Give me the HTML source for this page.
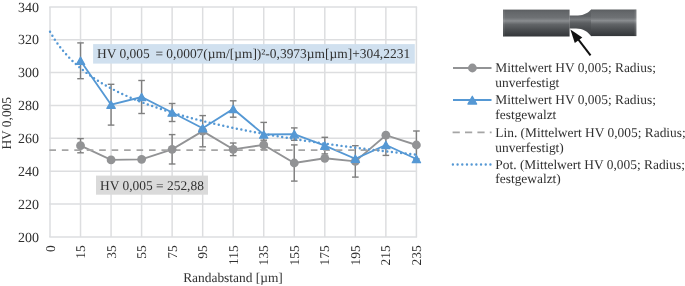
<!DOCTYPE html><html><head><meta charset="utf-8"><style>html,body{margin:0;padding:0;background:#fff;width:685px;height:286px;overflow:hidden}svg{display:block;will-change:transform}text{font-family:"Liberation Serif",serif;white-space:pre;text-rendering:geometricPrecision}</style></head><body><svg width="685" height="286" viewBox="0 0 685 286">
<defs><linearGradient id="cyl" x1="0" y1="0" x2="0" y2="1">
<stop offset="0" stop-color="#5a5d60"/><stop offset="0.1" stop-color="#64676a"/><stop offset="0.3" stop-color="#6e7174"/><stop offset="0.38" stop-color="#808386"/><stop offset="0.42" stop-color="#8b8e91"/><stop offset="0.47" stop-color="#7a7d80"/><stop offset="0.55" stop-color="#626568"/><stop offset="0.75" stop-color="#4b4e51"/><stop offset="1" stop-color="#333639"/></linearGradient>
<linearGradient id="neck" gradientUnits="userSpaceOnUse" x1="0" y1="9.5" x2="0" y2="36.4"><stop offset="0" stop-color="#5d6063"/><stop offset="0.25" stop-color="#5f6265"/><stop offset="0.38" stop-color="#7a7d80"/><stop offset="0.5" stop-color="#5c5f62"/><stop offset="0.7" stop-color="#4a4d50"/><stop offset="1" stop-color="#3d4043"/></linearGradient></defs>
<rect x="503" y="9.6" width="66.6" height="26.9" fill="url(#cyl)"/>
<path d="M569.4,15.5 L578,15.5 C584,15.5 588.5,12.5 591.2,9.6 L591.2,36.3 C588,32 583,28.6 576,28.6 L569.4,28.6 Z" fill="url(#neck)"/>
<rect x="591" y="9.5" width="45.4" height="26.6" fill="url(#cyl)"/><rect x="634.6" y="9.8" width="1.6" height="26" fill="#fff" opacity="0.12"/><rect x="503.2" y="9.8" width="1.4" height="26.4" fill="#fff" opacity="0.1"/>
<line x1="590.5" y1="55.4" x2="577.5" y2="38.4" stroke="#111" stroke-width="2"/>
<path d="M570.4,29.4 L582.3,37.6 L574.8,43.1 Z" fill="#111"/>
<line x1="49.30" y1="236.90" x2="417.10" y2="236.90" stroke="#dddee0" stroke-width="1.5"/><line x1="49.30" y1="204.04" x2="417.10" y2="204.04" stroke="#dddee0" stroke-width="1.5"/><line x1="49.30" y1="171.19" x2="417.10" y2="171.19" stroke="#dddee0" stroke-width="1.5"/><line x1="49.30" y1="138.33" x2="417.10" y2="138.33" stroke="#dddee0" stroke-width="1.5"/><line x1="49.30" y1="105.47" x2="417.10" y2="105.47" stroke="#dddee0" stroke-width="1.5"/><line x1="49.30" y1="72.61" x2="417.10" y2="72.61" stroke="#dddee0" stroke-width="1.5"/><line x1="49.30" y1="39.76" x2="417.10" y2="39.76" stroke="#dddee0" stroke-width="1.5"/><line x1="49.30" y1="6.90" x2="417.10" y2="6.90" stroke="#dddee0" stroke-width="1.5"/><line x1="50.00" y1="6.90" x2="50.00" y2="236.90" stroke="#dddee0" stroke-width="1.5"/><line x1="80.53" y1="6.90" x2="80.53" y2="236.90" stroke="#dddee0" stroke-width="1.5"/><line x1="111.07" y1="6.90" x2="111.07" y2="236.90" stroke="#dddee0" stroke-width="1.5"/><line x1="141.60" y1="6.90" x2="141.60" y2="236.90" stroke="#dddee0" stroke-width="1.5"/><line x1="172.13" y1="6.90" x2="172.13" y2="236.90" stroke="#dddee0" stroke-width="1.5"/><line x1="202.67" y1="6.90" x2="202.67" y2="236.90" stroke="#dddee0" stroke-width="1.5"/><line x1="233.20" y1="6.90" x2="233.20" y2="236.90" stroke="#dddee0" stroke-width="1.5"/><line x1="263.73" y1="6.90" x2="263.73" y2="236.90" stroke="#dddee0" stroke-width="1.5"/><line x1="294.27" y1="6.90" x2="294.27" y2="236.90" stroke="#dddee0" stroke-width="1.5"/><line x1="324.80" y1="6.90" x2="324.80" y2="236.90" stroke="#dddee0" stroke-width="1.5"/><line x1="355.33" y1="6.90" x2="355.33" y2="236.90" stroke="#dddee0" stroke-width="1.5"/><line x1="385.87" y1="6.90" x2="385.87" y2="236.90" stroke="#dddee0" stroke-width="1.5"/><line x1="416.40" y1="6.90" x2="416.40" y2="236.90" stroke="#dddee0" stroke-width="1.5"/><rect x="93.1" y="44.1" width="321.7" height="19.5" fill="#d0e0ef"/><rect x="96" y="175.6" width="112" height="19.1" fill="#dadada"/><line x1="80.53" y1="138.60" x2="80.53" y2="152.80" stroke="#7f7f7f" stroke-width="1.4"/><line x1="77.23" y1="138.60" x2="83.83" y2="138.60" stroke="#7f7f7f" stroke-width="1.4"/><line x1="77.23" y1="152.80" x2="83.83" y2="152.80" stroke="#7f7f7f" stroke-width="1.4"/><line x1="172.13" y1="134.60" x2="172.13" y2="164.00" stroke="#7f7f7f" stroke-width="1.4"/><line x1="168.83" y1="134.60" x2="175.43" y2="134.60" stroke="#7f7f7f" stroke-width="1.4"/><line x1="168.83" y1="164.00" x2="175.43" y2="164.00" stroke="#7f7f7f" stroke-width="1.4"/><line x1="202.67" y1="115.60" x2="202.67" y2="146.80" stroke="#7f7f7f" stroke-width="1.4"/><line x1="199.37" y1="115.60" x2="205.97" y2="115.60" stroke="#7f7f7f" stroke-width="1.4"/><line x1="199.37" y1="146.80" x2="205.97" y2="146.80" stroke="#7f7f7f" stroke-width="1.4"/><line x1="233.20" y1="143.00" x2="233.20" y2="155.60" stroke="#7f7f7f" stroke-width="1.4"/><line x1="229.90" y1="143.00" x2="236.50" y2="143.00" stroke="#7f7f7f" stroke-width="1.4"/><line x1="229.90" y1="155.60" x2="236.50" y2="155.60" stroke="#7f7f7f" stroke-width="1.4"/><line x1="263.73" y1="140.20" x2="263.73" y2="149.60" stroke="#7f7f7f" stroke-width="1.4"/><line x1="260.43" y1="140.20" x2="267.03" y2="140.20" stroke="#7f7f7f" stroke-width="1.4"/><line x1="260.43" y1="149.60" x2="267.03" y2="149.60" stroke="#7f7f7f" stroke-width="1.4"/><line x1="294.27" y1="144.90" x2="294.27" y2="181.10" stroke="#7f7f7f" stroke-width="1.4"/><line x1="290.97" y1="144.90" x2="297.57" y2="144.90" stroke="#7f7f7f" stroke-width="1.4"/><line x1="290.97" y1="181.10" x2="297.57" y2="181.10" stroke="#7f7f7f" stroke-width="1.4"/><line x1="355.33" y1="145.70" x2="355.33" y2="177.10" stroke="#7f7f7f" stroke-width="1.4"/><line x1="352.03" y1="145.70" x2="358.63" y2="145.70" stroke="#7f7f7f" stroke-width="1.4"/><line x1="352.03" y1="177.10" x2="358.63" y2="177.10" stroke="#7f7f7f" stroke-width="1.4"/><line x1="416.40" y1="131.00" x2="416.40" y2="159.00" stroke="#7f7f7f" stroke-width="1.4"/><line x1="413.10" y1="131.00" x2="419.70" y2="131.00" stroke="#7f7f7f" stroke-width="1.4"/><line x1="413.10" y1="159.00" x2="419.70" y2="159.00" stroke="#7f7f7f" stroke-width="1.4"/><line x1="80.53" y1="42.90" x2="80.53" y2="78.70" stroke="#7f7f7f" stroke-width="1.4"/><line x1="77.23" y1="42.90" x2="83.83" y2="42.90" stroke="#7f7f7f" stroke-width="1.4"/><line x1="77.23" y1="78.70" x2="83.83" y2="78.70" stroke="#7f7f7f" stroke-width="1.4"/><line x1="111.07" y1="84.30" x2="111.07" y2="125.10" stroke="#7f7f7f" stroke-width="1.4"/><line x1="107.77" y1="84.30" x2="114.37" y2="84.30" stroke="#7f7f7f" stroke-width="1.4"/><line x1="107.77" y1="125.10" x2="114.37" y2="125.10" stroke="#7f7f7f" stroke-width="1.4"/><line x1="141.60" y1="80.50" x2="141.60" y2="113.50" stroke="#7f7f7f" stroke-width="1.4"/><line x1="138.30" y1="80.50" x2="144.90" y2="80.50" stroke="#7f7f7f" stroke-width="1.4"/><line x1="138.30" y1="113.50" x2="144.90" y2="113.50" stroke="#7f7f7f" stroke-width="1.4"/><line x1="172.13" y1="103.50" x2="172.13" y2="121.50" stroke="#7f7f7f" stroke-width="1.4"/><line x1="168.83" y1="103.50" x2="175.43" y2="103.50" stroke="#7f7f7f" stroke-width="1.4"/><line x1="168.83" y1="121.50" x2="175.43" y2="121.50" stroke="#7f7f7f" stroke-width="1.4"/><line x1="233.20" y1="100.80" x2="233.20" y2="117.20" stroke="#7f7f7f" stroke-width="1.4"/><line x1="229.90" y1="100.80" x2="236.50" y2="100.80" stroke="#7f7f7f" stroke-width="1.4"/><line x1="229.90" y1="117.20" x2="236.50" y2="117.20" stroke="#7f7f7f" stroke-width="1.4"/><line x1="263.73" y1="122.40" x2="263.73" y2="146.60" stroke="#7f7f7f" stroke-width="1.4"/><line x1="260.43" y1="122.40" x2="267.03" y2="122.40" stroke="#7f7f7f" stroke-width="1.4"/><line x1="260.43" y1="146.60" x2="267.03" y2="146.60" stroke="#7f7f7f" stroke-width="1.4"/><line x1="294.27" y1="127.90" x2="294.27" y2="140.30" stroke="#7f7f7f" stroke-width="1.4"/><line x1="290.97" y1="127.90" x2="297.57" y2="127.90" stroke="#7f7f7f" stroke-width="1.4"/><line x1="290.97" y1="140.30" x2="297.57" y2="140.30" stroke="#7f7f7f" stroke-width="1.4"/><line x1="324.80" y1="137.30" x2="324.80" y2="153.90" stroke="#7f7f7f" stroke-width="1.4"/><line x1="321.50" y1="137.30" x2="328.10" y2="137.30" stroke="#7f7f7f" stroke-width="1.4"/><line x1="321.50" y1="153.90" x2="328.10" y2="153.90" stroke="#7f7f7f" stroke-width="1.4"/><line x1="385.87" y1="134.60" x2="385.87" y2="155.40" stroke="#7f7f7f" stroke-width="1.4"/><line x1="382.57" y1="134.60" x2="389.17" y2="134.60" stroke="#7f7f7f" stroke-width="1.4"/><line x1="382.57" y1="155.40" x2="389.17" y2="155.40" stroke="#7f7f7f" stroke-width="1.4"/><polyline points="80.53,145.70 111.07,159.90 141.60,159.30 172.13,149.30 202.67,131.20 233.20,149.30 263.73,144.90 294.27,163.00 324.80,158.30 355.33,161.40 385.87,135.20 416.40,145.00" fill="none" stroke="#929395" stroke-width="1.85"/><polyline points="80.53,60.80 111.07,104.70 141.60,97.00 172.13,112.50 202.67,128.30 233.20,109.00 263.73,134.50 294.27,134.10 324.80,145.60 355.33,158.80 385.87,145.00 416.40,159.00" fill="none" stroke="#5598d4" stroke-width="1.85"/><line x1="49.40" y1="150.03" x2="385.87" y2="150.03" stroke="#a5a5a5" stroke-width="1.8" stroke-dasharray="6.6 5.85"/><polyline points="50.00,31.67 51.53,34.33 53.05,36.85 54.58,39.24 56.11,41.53 57.63,43.71 59.16,45.79 60.69,47.79 62.21,49.71 63.74,51.56 65.27,53.34 66.79,55.05 68.32,56.70 69.85,58.30 71.37,59.85 72.90,61.34 74.43,62.79 75.95,64.20 77.48,65.56 79.01,66.88 80.53,68.17 82.06,69.43 83.59,70.65 85.11,71.83 86.64,72.99 88.17,74.12 89.69,75.22 91.22,76.30 92.75,77.35 94.27,78.38 95.80,79.38 97.33,80.37 98.85,81.33 100.38,82.27 101.91,83.19 103.43,84.09 104.96,84.98 106.49,85.85 108.01,86.70 109.54,87.54 111.07,88.36 112.59,89.16 114.12,89.95 115.65,90.73 117.17,91.49 118.70,92.24 120.23,92.98 121.75,93.70 123.28,94.42 124.81,95.12 126.33,95.81 127.86,96.49 129.39,97.16 130.91,97.82 132.44,98.47 133.97,99.11 135.49,99.74 137.02,100.36 138.55,100.98 140.07,101.58 141.60,102.18 143.13,102.76 144.65,103.34 146.18,103.92 147.71,104.48 149.23,105.04 150.76,105.59 152.29,106.13 153.81,106.67 155.34,107.20 156.87,107.72 158.39,108.24 159.92,108.75 161.45,109.25 162.97,109.75 164.50,110.24 166.03,110.73 167.55,111.21 169.08,111.68 170.61,112.15 172.13,112.62 173.66,113.08 175.19,113.54 176.71,113.99 178.24,114.43 179.77,114.87 181.29,115.31 182.82,115.74 184.35,116.17 185.87,116.59 187.40,117.01 188.93,117.42 190.45,117.83 191.98,118.24 193.51,118.64 195.03,119.04 196.56,119.44 198.09,119.83 199.61,120.21 201.14,120.60 202.67,120.98 204.19,121.36 205.72,121.73 207.25,122.10 208.77,122.47 210.30,122.83 211.83,123.19 213.35,123.55 214.88,123.90 216.41,124.25 217.93,124.60 219.46,124.94 220.99,125.29 222.51,125.63 224.04,125.96 225.57,126.30 227.09,126.63 228.62,126.96 230.15,127.28 231.67,127.60 233.20,127.93 234.73,128.24 236.25,128.56 237.78,128.87 239.31,129.18 240.83,129.49 242.36,129.80 243.89,130.10 245.41,130.40 246.94,130.70 248.47,131.00 249.99,131.29 251.52,131.59 253.05,131.88 254.57,132.17 256.10,132.45 257.63,132.74 259.15,133.02 260.68,133.30 262.21,133.58 263.73,133.85 265.26,134.13 266.79,134.40 268.31,134.67 269.84,134.94 271.37,135.21 272.89,135.48 274.42,135.74 275.95,136.00 277.47,136.26 279.00,136.52 280.53,136.78 282.05,137.03 283.58,137.29 285.11,137.54 286.63,137.79 288.16,138.04 289.69,138.28 291.21,138.53 292.74,138.78 294.27,139.02 295.79,139.26 297.32,139.50 298.85,139.74 300.37,139.97 301.90,140.21 303.43,140.44 304.95,140.68 306.48,140.91 308.01,141.14 309.53,141.37 311.06,141.59 312.59,141.82 314.11,142.05 315.64,142.27 317.17,142.49 318.69,142.71 320.22,142.93 321.75,143.15 323.27,143.37 324.80,143.58 326.33,143.80 327.85,144.01 329.38,144.23 330.91,144.44 332.43,144.65 333.96,144.86 335.49,145.06 337.01,145.27 338.54,145.48 340.07,145.68 341.59,145.89 343.12,146.09 344.65,146.29 346.17,146.49 347.70,146.69 349.23,146.89 350.75,147.09 352.28,147.28 353.81,147.48 355.33,147.67 356.86,147.87 358.39,148.06 359.91,148.25 361.44,148.44 362.97,148.63 364.49,148.82 366.02,149.01 367.55,149.20 369.07,149.38 370.60,149.57 372.13,149.75 373.65,149.93 375.18,150.12 376.71,150.30 378.23,150.48 379.76,150.66 381.29,150.84 382.81,151.02 384.34,151.19 385.87,151.37 387.39,151.55 388.92,151.72 390.45,151.90 391.97,152.07 393.50,152.24 395.03,152.41 396.55,152.59 398.08,152.76 399.61,152.93 401.13,153.09 402.66,153.26 404.19,153.43 405.71,153.60 407.24,153.76 408.77,153.93 410.29,154.09 411.82,154.26 413.35,154.42 414.87,154.58 416.40,154.74" fill="none" stroke="#5598d4" stroke-width="2.45" stroke-linecap="round" stroke-dasharray="0 4.615" stroke-dashoffset="-0.1"/><circle cx="80.53" cy="145.70" r="4.4" fill="#929395"/><circle cx="111.07" cy="159.90" r="4.4" fill="#929395"/><circle cx="141.60" cy="159.30" r="4.4" fill="#929395"/><circle cx="172.13" cy="149.30" r="4.4" fill="#929395"/><circle cx="202.67" cy="131.20" r="4.4" fill="#929395"/><circle cx="233.20" cy="149.30" r="4.4" fill="#929395"/><circle cx="263.73" cy="144.90" r="4.4" fill="#929395"/><circle cx="294.27" cy="163.00" r="4.4" fill="#929395"/><circle cx="324.80" cy="158.30" r="4.4" fill="#929395"/><circle cx="355.33" cy="161.40" r="4.4" fill="#929395"/><circle cx="385.87" cy="135.20" r="4.4" fill="#929395"/><circle cx="416.40" cy="145.00" r="4.4" fill="#929395"/><path d="M80.53,57.12 L84.73,64.48 L76.33,64.48 Z" fill="#5598d4" stroke="#5598d4" stroke-width="1.2" stroke-linejoin="round"/><path d="M111.07,101.02 L115.27,108.38 L106.87,108.38 Z" fill="#5598d4" stroke="#5598d4" stroke-width="1.2" stroke-linejoin="round"/><path d="M141.60,93.32 L145.80,100.68 L137.40,100.68 Z" fill="#5598d4" stroke="#5598d4" stroke-width="1.2" stroke-linejoin="round"/><path d="M172.13,108.82 L176.33,116.18 L167.93,116.18 Z" fill="#5598d4" stroke="#5598d4" stroke-width="1.2" stroke-linejoin="round"/><path d="M202.67,124.62 L206.87,131.98 L198.47,131.98 Z" fill="#5598d4" stroke="#5598d4" stroke-width="1.2" stroke-linejoin="round"/><path d="M233.20,105.32 L237.40,112.68 L229.00,112.68 Z" fill="#5598d4" stroke="#5598d4" stroke-width="1.2" stroke-linejoin="round"/><path d="M263.73,130.82 L267.93,138.18 L259.53,138.18 Z" fill="#5598d4" stroke="#5598d4" stroke-width="1.2" stroke-linejoin="round"/><path d="M294.27,130.42 L298.47,137.78 L290.07,137.78 Z" fill="#5598d4" stroke="#5598d4" stroke-width="1.2" stroke-linejoin="round"/><path d="M324.80,141.92 L329.00,149.28 L320.60,149.28 Z" fill="#5598d4" stroke="#5598d4" stroke-width="1.2" stroke-linejoin="round"/><path d="M355.33,155.12 L359.53,162.48 L351.13,162.48 Z" fill="#5598d4" stroke="#5598d4" stroke-width="1.2" stroke-linejoin="round"/><path d="M385.87,141.32 L390.07,148.68 L381.67,148.68 Z" fill="#5598d4" stroke="#5598d4" stroke-width="1.2" stroke-linejoin="round"/><path d="M416.40,155.32 L420.60,162.68 L412.20,162.68 Z" fill="#5598d4" stroke="#5598d4" stroke-width="1.2" stroke-linejoin="round"/>
<text x="97.0" y="57.8" font-family="Liberation Serif" font-size="13.45" fill="#303030">HV 0,005 <tspan dx="2.3">= 0,0007(µm/[µm])²-0,3973µm[µm]+304,2231</tspan></text><text x="100.1" y="190" font-family="Liberation Serif" font-size="13.42" fill="#303030">HV 0,005 = 252,88</text><text x="38.9" y="241.50" text-anchor="end" font-family="Liberation Serif" font-size="14" fill="#303030">200</text><text x="38.9" y="208.64" text-anchor="end" font-family="Liberation Serif" font-size="14" fill="#303030">220</text><text x="38.9" y="175.79" text-anchor="end" font-family="Liberation Serif" font-size="14" fill="#303030">240</text><text x="38.9" y="142.93" text-anchor="end" font-family="Liberation Serif" font-size="14" fill="#303030">260</text><text x="38.9" y="110.07" text-anchor="end" font-family="Liberation Serif" font-size="14" fill="#303030">280</text><text x="38.9" y="77.21" text-anchor="end" font-family="Liberation Serif" font-size="14" fill="#303030">300</text><text x="38.9" y="44.36" text-anchor="end" font-family="Liberation Serif" font-size="14" fill="#303030">320</text><text x="38.9" y="11.50" text-anchor="end" font-family="Liberation Serif" font-size="14" fill="#303030">340</text><text transform="translate(54.60,245.30) rotate(-90)" text-anchor="end" font-family="Liberation Serif" font-size="13.42" fill="#303030">0</text><text transform="translate(85.13,245.30) rotate(-90)" text-anchor="end" font-family="Liberation Serif" font-size="13.42" fill="#303030">15</text><text transform="translate(115.67,245.30) rotate(-90)" text-anchor="end" font-family="Liberation Serif" font-size="13.42" fill="#303030">35</text><text transform="translate(146.20,245.30) rotate(-90)" text-anchor="end" font-family="Liberation Serif" font-size="13.42" fill="#303030">55</text><text transform="translate(176.73,245.30) rotate(-90)" text-anchor="end" font-family="Liberation Serif" font-size="13.42" fill="#303030">75</text><text transform="translate(207.27,245.30) rotate(-90)" text-anchor="end" font-family="Liberation Serif" font-size="13.42" fill="#303030">95</text><text transform="translate(237.80,245.30) rotate(-90)" text-anchor="end" font-family="Liberation Serif" font-size="13.42" fill="#303030">115</text><text transform="translate(268.33,245.30) rotate(-90)" text-anchor="end" font-family="Liberation Serif" font-size="13.42" fill="#303030">135</text><text transform="translate(298.87,245.30) rotate(-90)" text-anchor="end" font-family="Liberation Serif" font-size="13.42" fill="#303030">155</text><text transform="translate(329.40,245.30) rotate(-90)" text-anchor="end" font-family="Liberation Serif" font-size="13.42" fill="#303030">175</text><text transform="translate(359.93,245.30) rotate(-90)" text-anchor="end" font-family="Liberation Serif" font-size="13.42" fill="#303030">195</text><text transform="translate(390.47,245.30) rotate(-90)" text-anchor="end" font-family="Liberation Serif" font-size="13.42" fill="#303030">215</text><text transform="translate(421.00,245.30) rotate(-90)" text-anchor="end" font-family="Liberation Serif" font-size="13.42" fill="#303030">235</text><text x="233" y="282.2" text-anchor="middle" font-family="Liberation Serif" font-size="13.42" fill="#303030">Randabstand [µm]</text><text transform="translate(11,123.3) rotate(-90)" text-anchor="middle" font-family="Liberation Serif" font-size="13.42" fill="#303030">HV 0,005</text>
<line x1="453" y1="68" x2="491.5" y2="68" stroke="#929395" stroke-width="1.9"/><circle cx="472.4" cy="68" r="4.4" fill="#929395"/><line x1="453" y1="100" x2="491.5" y2="100" stroke="#5598d4" stroke-width="2"/><path d="M472.30,96.17 L476.70,104.03 L467.90,104.03 Z" fill="#5598d4" stroke="#5598d4" stroke-width="1.2" stroke-linejoin="round"/><line x1="452.6" y1="132.3" x2="491.6" y2="132.3" stroke="#a5a5a5" stroke-width="1.8" stroke-dasharray="7.2 5.2"/><line x1="452.9" y1="164.5" x2="490.6" y2="164.5" stroke="#5598d4" stroke-width="2.4" stroke-linecap="round" stroke-dasharray="0 4.69"/><text x="495.3" y="72" font-family="Liberation Serif" font-size="13.42" fill="#303030">Mittelwert HV 0,005; Radius;</text><text x="495.3" y="87.3" font-family="Liberation Serif" font-size="13.42" fill="#303030">unverfestigt</text><text x="495.3" y="103.9" font-family="Liberation Serif" font-size="13.42" fill="#303030">Mittelwert HV 0,005; Radius;</text><text x="495.3" y="118.8" font-family="Liberation Serif" font-size="13.42" fill="#303030">festgewalzt</text><text x="495.3" y="136.6" font-family="Liberation Serif" font-size="13.42" fill="#303030">Lin. (Mittelwert HV 0,005; Radius;</text><text x="495.3" y="151.5" font-family="Liberation Serif" font-size="13.42" fill="#303030">unverfestigt)</text><text x="495.3" y="168.5" font-family="Liberation Serif" font-size="13.42" fill="#303030">Pot. (Mittelwert HV 0,005; Radius;</text><text x="495.3" y="183.4" font-family="Liberation Serif" font-size="13.42" fill="#303030">festgewalzt)</text>
</svg></body></html>
